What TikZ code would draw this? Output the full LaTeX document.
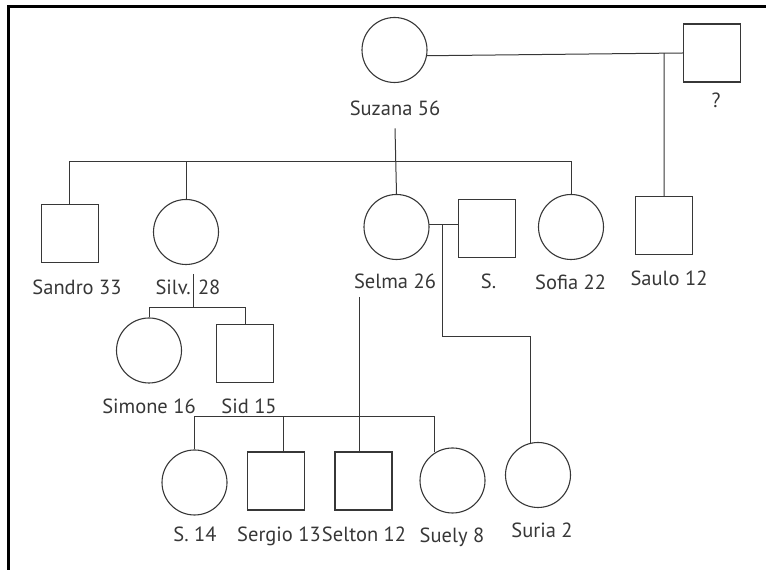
\documentclass[tikz,border=0pt]{standalone}
\usepackage{fontspec}
\setmainfont{PT Sans}
\usepackage{tikz}
\usetikzlibrary{calc}
\definecolor{ink}{RGB}{55,55,55}

\begin{document}
\begin{tikzpicture}[x=1pt, y=1pt,
  female/.style={draw=ink, line width=1.1pt, circle, minimum size=65pt, inner sep=0pt},
  male/.style={draw=ink, line width=1.1pt, rectangle, minimum width=57pt, minimum height=58pt, inner sep=0pt},
  tag/.style={font=\fontsize{20.5}{22}\selectfont\color{ink}, inner sep=0pt, text height=14.5pt, text depth=0pt},
  link/.style={draw=ink, line width=1pt}]
  \useasboundingbox (0,0) rectangle (766,570);
  \draw[line width=3pt] (8.5,0) -- (8.5,563.5) -- (766,563.5);

  \node[female] (suzana) at (394.5,520) {};
  \node[male]   (unknown) at (712,517) {};
  \node[male]   (sandro) at (69.6,336.5) {};
  \node[female] (silv) at (186,338) {};
  \node[female] (selma) at (396.5,343) {};
  \node[male]   (sdot) at (486.6,341.5) {};
  \node[female] (sofia) at (571,343) {};
  \node[male]   (saulo) at (664,344.5) {};
  \node[female] (simone) at (149,219.5) {};
  \node[male]   (sid) at (245,216.5) {};
  \node[female] (s14) at (194.5,87.5) {};
  \node[male]   (sergio) at (276,89) {};
  \node[male]   (selton) at (363.5,89) {};
  \node[female] (suely) at (452.5,89.5) {};
  \node[female] (suria) at (538,95) {};

  \foreach \n/\x/\y/\t in {suzana/395/462/Suzana 56, unknown/716/470/?,
    sandro/77/283/Sandro 33, silv/188/283/Silv. 28, selma/395/289/Selma 26,
    sdot/488.5/289/S., sofia/570.6/288/Sofia 22, saulo/669/292/Saulo 12,
    simone/149/164/Simone 16, sid/249/164/Sid 15, s14/195/36/S. 14,
    sergio/279/36/Sergio 13, selton/364/36/Selton 12, suely/452/35/Suely 8,
    suria/542/40/Suria 2}
    \node[tag] (lbl\n) at (\x,\y) {\t};

  % couples
  \draw[link] (suzana.-10) -- (unknown.west) coordinate[pos=0.926] (m1);
  \draw[link] (m1) -- (saulo.north);
  \draw[link] (selma.5) -- (sdot.west |- selma.5) coordinate[pos=0.45] (m2);
  \draw[link] (m2) -- ++(0,-112) -| (suria.104);

  % children of Suzana
  \coordinate (sib1) at (0,408);
  \draw[link] ([yshift=-13pt]lblsuzana.south) -- (selma.north);
  \draw[link] (sandro.north) -- (sandro.north |- sib1) -- (sofia.north |- sib1) -- (sofia.north);
  \draw[link] (silv.north) -- (silv.north |- sib1);

  % children of Silv.
  \coordinate (silvdrop) at (193,296);
  \coordinate (sib2) at (0,262);
  \draw[link] (silvdrop) -- (silvdrop |- sib2);
  \draw[link] (simone.north) -- (simone.north |- sib2) -- (sid.north |- sib2) -- (sid.north);

  % children of Selma
  \coordinate (selmadrop) at (359,273);
  \coordinate (sib3) at (0,153);
  \draw[link] (selmadrop) -- (selmadrop |- selton.north);
  \draw[link] (s14.north) -- (s14.north |- sib3) -- (suely.122 |- sib3) -- (suely.122);
  \draw[link] ([xshift=7pt]sergio.north) -- ([xshift=7pt]sergio.north |- sib3);
\end{tikzpicture}
\end{document}
